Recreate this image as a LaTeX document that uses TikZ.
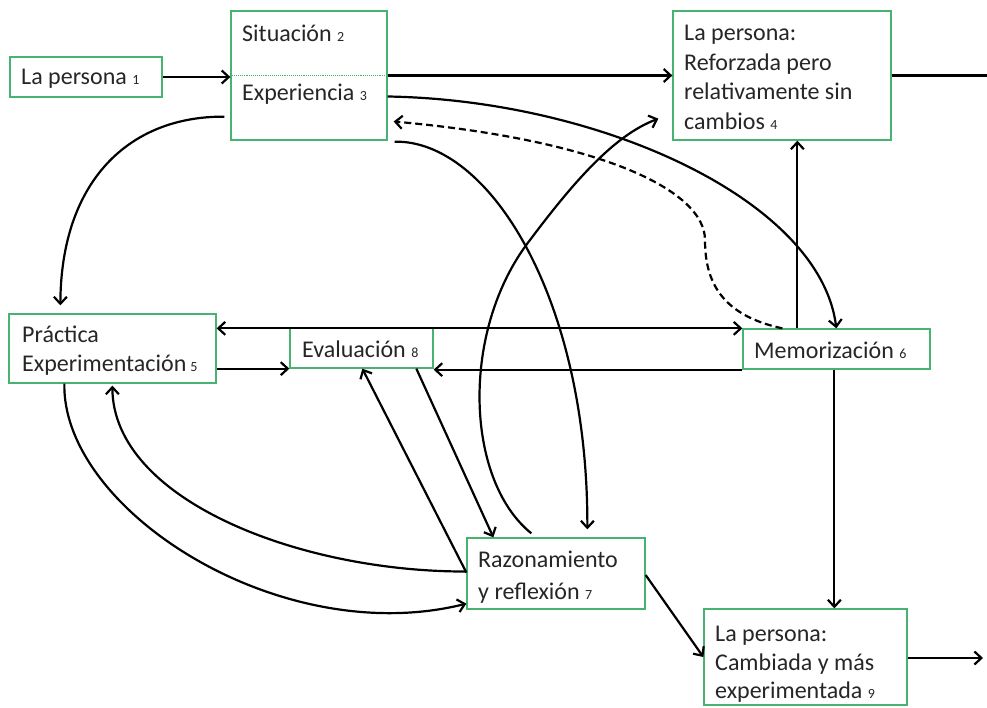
\documentclass[tikz,border=0pt]{standalone}
\usepackage{fontspec}
\setmainfont{Carlito}
\usetikzlibrary{arrows.meta,calc}
\definecolor{boxgreen}{RGB}{72,178,112}
\newcommand{\nmb}[1]{{\fontsize{14}{14}\selectfont #1}}
\begin{document}
\begin{tikzpicture}[x=1pt,y=-1pt,
  box/.style={draw=boxgreen,line width=1.3pt,inner sep=0pt,fill=none},
  txt/.style={anchor=base west,inner sep=0pt,font=\fontsize{24}{29}\selectfont,text=black!85},
  arr/.style={line width=2.2pt,-{Straight Barb[length=7pt,width=13pt,line width=2.2pt]}},
  darr/.style={line width=2.2pt,{Straight Barb[length=7pt,width=13pt,line width=2.2pt]}-{Straight Barb[length=7pt,width=13pt,line width=2.2pt]}},
  ln/.style={line width=2.2pt}]
\fill[white] (0,0) rectangle (987,707);
\useasboundingbox (0,0) rectangle (987,707);

% boxes
\node[box,minimum width=152pt,minimum height=40pt] (p1) at (86,77) {};
\node[box,minimum width=156pt,minimum height=129pt] (sit) at (309,75.5) {};
\node[box,minimum width=218pt,minimum height=129pt] (b4) at (782,75.5) {};
\node[box,minimum width=207pt,minimum height=69pt] (prac) at (112.5,348.5) {};
\node[box,minimum width=143pt,minimum height=40pt] (eval) at (361.5,348) {};
\node[box,minimum width=187pt,minimum height=40pt] (memo) at (836.5,349) {};
\node[box,minimum width=178pt,minimum height=71pt] (raz) at (556,573.5) {};
\node[box,minimum width=203pt,minimum height=96pt] (b9) at (805.5,657) {};

\draw[boxgreen,line width=0.9pt,densely dotted] (sit.west) -- (sit.east);

% texts
\node[txt] (t1) at (21,84) {La persona \nmb{1}};
\node[txt] (t2) at (242,41) {Situación \nmb{2}};
\node[txt] (t3) at (242,100) {Experiencia \nmb{3}};
\node[txt] (t4a) at (684,40) {La persona:};
\node[txt] (t4b) at (684,70) {Reforzada pero};
\node[txt] (t4c) at (684,99.5) {relativamente sin};
\node[txt] (t4d) at (684,129) {cambios \nmb{4}};
\node[txt] (t5a) at (22,342) {Práctica};
\node[txt] (t5b) at (22,371) {Experimentación\,\nmb{5}};
\node[txt] (t8) at (302,357) {Evaluación \nmb{8}};
\node[txt] (t6) at (754,358) {Memorización \nmb{6}};
\node[txt] (t7a) at (478,567) {Razonamiento};
\node[txt] (t7b) at (478,599) {y reflexión \nmb{7}};
\node[txt] (t9a) at (715,641) {La persona:};
\node[txt] (t9b) at (715,670) {Cambiada y más};
\node[txt] (t9c) at (715,698) {experimentada \nmb{9}};

\coordinate (out4) at (987,75.5);
\coordinate (out9) at (983,658);
\coordinate (m4) at ($(memo.north west)+(55,0)$);
\coordinate (m9) at ($(memo.south west)+(92,0)$);

% straight connectors
\draw[arr] (p1.east) -- (p1.east -| sit.west);
\draw[arr] (sit.east) -- (b4.west);
\draw[ln] (b4.east) -- (out4);
\draw[darr] (prac.east |- memo.north west) -- (memo.north west);
\draw[arr] (prac.east |- eval.south west) -- (eval.south west);
\draw[arr] (memo.south west) -- (memo.south west -| eval.east);
\draw[arr] (m4) -- (m4 |- b4.south);
\draw[arr] (m9) -- (m9 |- b9.north);
\draw[arr] (b9.east |- out9) -- (out9);
\draw[arr] ($(raz.east)+(0,1.5)$) -- (b9.west);
\draw[arr] ($(eval.south west)+(127,0)$) -- ($(raz.north west)+(27,0)$);
\draw[arr] ($(raz.west)+(0,-1)$) -- ($(eval.south west)+(73,0)$);

% curved connectors
\draw[arr] ($(sit.south west)+(-6,-24)$) .. controls (130,116) and (61,180) .. ($(prac.north west)+(52,-8)$);
\draw[arr] ($(sit.east)+(0,21)$) .. controls (600,100) and (820,200) .. ($(memo.north west)+(94,0)$);
\draw[arr,dash pattern=on 7pt off 4pt] ($(memo.north west)+(40,0)$) .. controls (720,315) and (705,280) .. (705,240) .. controls (705,190) and (600,140) .. ($(sit.east)+(6,46)$);
\draw[arr] ($(sit.south east)+(7,1)$) .. controls (490,140) and (588,300) .. ($(raz.north west)+(121,-8)$);
\draw[arr] ($(raz.north west)+(65,-4)$) .. controls (465,480) and (460,330) .. (530,240) .. controls (575,180) and (615,135) .. ($(b4.south west)+(-14,-22)$);
\draw[arr] ($(raz.west)+(0,-2)$) .. controls (300,572) and (113,500) .. ($(prac.south west)+(104,2)$);
\draw[arr] ($(prac.south west)+(56,0)$) .. controls (62,510) and (280,650) .. ($(raz.south west)+(0,-6)$);
\end{tikzpicture}
\end{document}
